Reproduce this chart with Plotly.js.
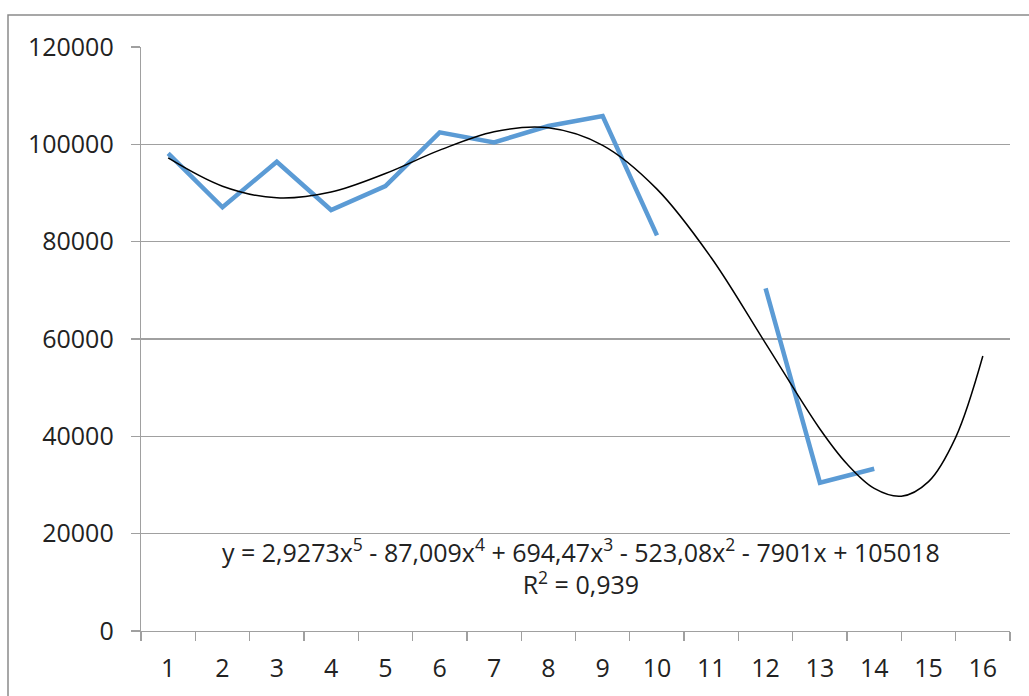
<!DOCTYPE html>
<html>
<head>
<meta charset="utf-8">
<script src="https://cdn.plot.ly/plotly-3.0.1.min.js"></script>
<style>
  html, body { margin: 0; padding: 0; background: #fff; }
  #chart { width: 1029px; height: 696px; }
</style>
</head>
<body>
<div id="chart"></div>
<script>
// Categories on the x axis
var categories = [1, 2, 3, 4, 5, 6, 7, 8, 9, 10, 11, 12, 13, 14, 15, 16];
var tickLabels = ["1","2","3","4","5","6","7","8","9","10","11","12","13","14","15","16"];

// Blue data series (gap at 11, no values for 15 and 16)
var seriesValues = [98150, 87060, 96430, 86500, 91440, 102470, 100410, 103760, 105820, 81300, null, 70400, 30470, 33350, null, null];

// Polynomial trendline, values
var trendX = [1, 2, 3, 4, 5, 6, 7, 8, 9, 10, 11, 12, 13, 13.5, 14, 14.5, 15, 15.5, 16];
var trendY = [97200, 91400, 89000, 90200, 94000, 98800, 102600, 103400, 99800, 90800, 76700, 59100, 41500, 34300, 29300, 27700, 30700, 39800, 56500];

var yTicks = [0, 20000, 40000, 60000, 80000, 100000, 120000];
var equationText = "y = 2,9273x<sup>5</sup> - 87,009x<sup>4</sup> + 694,47x<sup>3</sup> - 523,08x<sup>2</sup> - 7901x + 105018";
var r2Text = "R<sup>2</sup> = 0,939";

var font = "Open Sans, Liberation Sans, Arial, sans-serif";
var gridCol = "#a0a0a0";

var traces = [
  {
    x: categories, y: seriesValues, type: "scatter", mode: "lines",
    line: { color: "#5b9bd5", width: 4.5 }, connectgaps: false,
    hoverinfo: "skip", showlegend: false
  },
  {
    x: trendX, y: trendY, type: "scatter", mode: "lines",
    line: { color: "#000000", width: 1.5, shape: "spline", smoothing: 1 },
    hoverinfo: "skip", showlegend: false
  }
];

var layout = {
  width: 1029, height: 696,
  margin: { l: 141, r: 19, t: 47, b: 65 },
  paper_bgcolor: "#ffffff", plot_bgcolor: "#ffffff",
  font: { family: font, color: "#222222" },
  showlegend: false,
  xaxis: {
    range: [0.5, 16.5], tickvals: categories, ticktext: tickLabels,
    ticks: "", showgrid: false, zeroline: false,
    showline: true, linecolor: gridCol, linewidth: 1.3,
    tickfont: { size: 25, family: font, color: "#222222" },
    ticklabelstandoff: 15,
    minor: { tick0: 0.5, dtick: 1, ticks: "outside", ticklen: 9, tickcolor: gridCol, tickwidth: 1.3, showgrid: false },
    fixedrange: true
  },
  yaxis: {
    range: [0, 120000], tickvals: yTicks, ticktext: yTicks.map(String),
    ticks: "outside", ticklen: 9, tickcolor: gridCol, tickwidth: 1.3,
    showgrid: true, gridcolor: gridCol, gridwidth: 1.3,
    zeroline: false, showline: true, linecolor: gridCol, linewidth: 1.3,
    tickfont: { size: 25, family: font, color: "#222222" },
    ticklabelstandoff: 12,
    fixedrange: true
  },
  annotations: [
    { xref: "paper", yref: "paper", x: (581 - 141) / 869, y: (631 - 566) / 584,
      text: equationText + "<br>" + r2Text, showarrow: false, align: "center",
      xanchor: "center", yanchor: "middle",
      font: { size: 25, family: font, color: "#222222" } }
  ],
  shapes: [
    { type: "rect", xref: "paper", yref: "paper",
      x0: (8 - 141) / 869, x1: (1040 - 141) / 869,
      y0: (631 - 710) / 584, y1: (631 - 15) / 584,
      line: { color: "#8a8a8a", width: 1.5 }, fillcolor: "rgba(0,0,0,0)", layer: "below" }
  ]
};

Plotly.newPlot("chart", traces, layout, { displayModeBar: false, staticPlot: true });
</script>
</body>
</html>
